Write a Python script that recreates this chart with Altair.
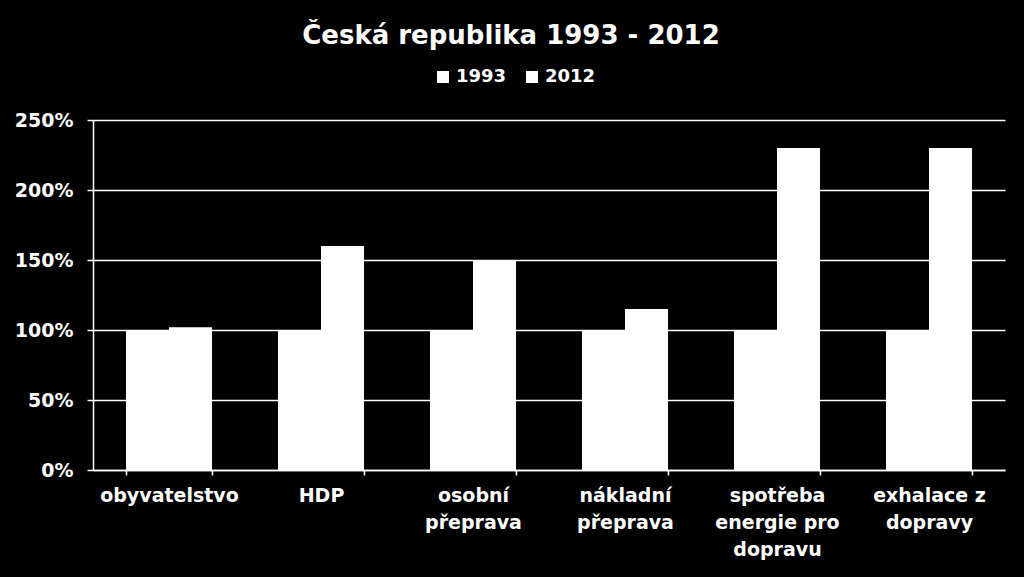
import altair as alt
import pandas as pd

categories = ["obyvatelstvo", "HDP", "osobní\npřeprava", "nákladní\npřeprava",
              "spotřeba\nenergie pro\ndopravu", "exhalace z\ndopravy"]
series = ["1993", "2012"]
values_1993 = [1.00, 1.00, 1.00, 1.00, 1.00, 1.00]
values_2012 = [1.02, 1.60, 1.50, 1.15, 2.30, 2.30]
y_ticks = [0, 0.5, 1.0, 1.5, 2.0, 2.5]

rows = []
for c, a, b in zip(categories, values_1993, values_2012):
    rows.append({"kat": c, "rok": "1993", "v": a})
    rows.append({"kat": c, "rok": "2012", "v": b})
df = pd.DataFrame(rows)

FONT = "DejaVu Sans"

chart = alt.Chart(df).mark_bar(color="white").encode(
    x=alt.X("kat:N", sort=categories, title=None,
            scale=alt.Scale(paddingInner=0.434, paddingOuter=0.217),
            axis=alt.Axis(labelAngle=0, labelExpr="split(datum.label, '\\n')",
                          labelFont=FONT, labelFontSize=19, labelFontWeight="bold",
                          labelColor="white", labelLineHeight=27, labelPadding=11,
                          labelBaseline="top",
                          tickBand="extent", tickColor="white", tickSize=5, tickWidth=1.5,
                          domainColor="white", domainWidth=1.5, grid=False)),
    xOffset=alt.XOffset("rok:N", sort=series, scale=alt.Scale(paddingInner=0, paddingOuter=0)),
    y=alt.Y("v:Q", title=None,
            scale=alt.Scale(domain=[0, 2.5], nice=False),
            axis=alt.Axis(values=y_ticks, format=".0%",
                          labelFont=FONT, labelFontSize=19, labelFontWeight="bold",
                          labelColor="white", labelPadding=14,
                          tickColor="white", tickSize=6, tickWidth=1.5,
                          domainColor="white", domainWidth=1.5,
                          gridColor="white", gridWidth=1.5, gridOpacity=1)),
    color=alt.Color("rok:N", sort=series,
                    scale=alt.Scale(domain=series, range=["white", "white"]),
                    legend=alt.Legend(title=None, orient="none", direction="horizontal",
                                      legendX=341, legendY=-52,
                                      symbolType="square", symbolSize=144,
                                      symbolStrokeWidth=0, symbolFillColor="white",
                                      labelFont=FONT, labelFontSize=18,
                                      labelFontWeight="bold", labelColor="white",
                                      labelOffset=4, columnPadding=16)),
).properties(
    width=912,
    height=350,
    background="black",
    padding={"left": 93, "top": 120, "right": 19, "bottom": 107},
    autosize=alt.AutoSizeParams(type="none"),
    title=alt.TitleParams("Česká republika 1993 - 2012", font=FONT, fontSize=26,
                          fontWeight="bold", color="white", anchor="middle",
                          dx=-38, offset=19),
).configure_view(stroke=None)

chart.save("out.html", embed_options={"renderer": "svg", "actions": False})
